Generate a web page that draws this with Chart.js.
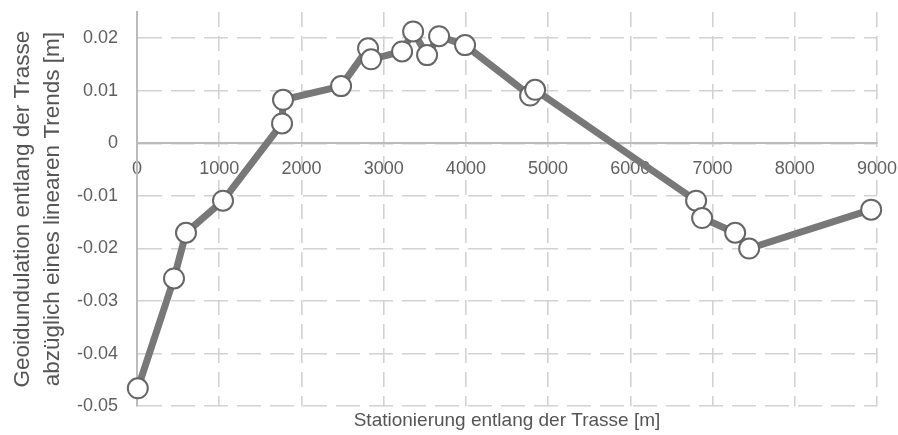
<!DOCTYPE html>
<html>
<head>
<meta charset="utf-8">
<script src="https://cdn.jsdelivr.net/npm/chart.js@4"></script>
<style>
  html, body { margin: 0; padding: 0; background: #ffffff; }
  #wrap { width: 898px; height: 435px; position: relative; }
</style>
</head>
<body>
<div id="wrap"><canvas id="c"></canvas></div>
<script>
// Stationierung entlang der Trasse [m]
const stations = [10, 450, 596, 1046, 1764, 1776, 2482, 2810, 2847, 3224, 3358, 3528, 3674, 3990, 4781, 4842, 6800, 6873, 7275, 7445, 8929];
// Geoidundulation abzüglich eines linearen Trends [m]
const undulation = [-0.0466, -0.0257, -0.0170, -0.0109, 0.0038, 0.0083, 0.0109, 0.0181, 0.0160, 0.0175, 0.0213, 0.0168, 0.0204, 0.0187, 0.0091, 0.0102, -0.0109, -0.0142, -0.0170, -0.0200, -0.0126];
// axis settings
const xTicksMin = 0, xTicksMax = 9000, xStep = 1000;
const yTicksMin = -0.05, yTicksMax = 0.025, yStep = 0.01;
const xTitle = 'Stationierung entlang der Trasse [m]';
const yTitle = ['Geoidundulation entlang der Trasse', 'abzüglich eines linearen Trends [m]'];

const points = stations.map((s, i) => ({ x: s, y: undulation[i] }));

const FONT = "'Liberation Sans', Arial, Helvetica, sans-serif";

new Chart(document.getElementById('c'), {
  type: 'line',
  data: {
    datasets: [{
      data: points,
      borderColor: '#787878',
      borderWidth: 7,
      tension: 0,
      pointRadius: 10,
      pointHoverRadius: 10,
      pointBorderWidth: 2,
      pointBackgroundColor: '#ffffff',
      pointBorderColor: '#666666',
      clip: false
    }]
  },
  options: {
    responsive: true,
    maintainAspectRatio: false,
    animation: false,
    locale: 'en-US',
    layout: { padding: { left: 0, right: 21, top: 8.5, bottom: 0 } },
    plugins: {
      legend: { display: false },
      tooltip: { enabled: false },
      title: {
        display: true,
        text: xTitle,
        position: 'bottom',
        fullSize: false,
        align: 'center',
        color: '#555555',
        font: { family: FONT, size: 19, weight: 'normal', lineHeight: 1.2 },
        padding: { top: 3, bottom: 3 }
      }
    },
    scales: {
      x: {
        type: 'linear',
        position: { y: 0 },
        min: xTicksMin,
        max: xTicksMax,
        ticks: {
          stepSize: xStep,
          maxRotation: 0,
          autoSkip: false,
          padding: 15,
          color: '#5f5f5f',
          font: { family: FONT, size: 18 },
          callback: (v) => String(v)
        },
        grid: { color: '#d2d2d2', lineWidth: 1.6, drawTicks: false },
        border: { display: true, color: '#bbbbbb', width: 2, dash: [15, 9] },
        afterFit: (s) => { s.height = 0; s.paddingLeft = 0; s.paddingRight = 0; }
      },
      y: {
        type: 'linear',
        position: 'left',
        min: yTicksMin,
        max: yTicksMax,
        ticks: {
          stepSize: yStep,
          padding: 19,
          color: '#5f5f5f',
          font: { family: FONT, size: 18 }
        },
        afterBuildTicks: (s) => {
          s.ticks = s.ticks.filter(t => Math.abs(t.value * 100 - Math.round(t.value * 100)) < 1e-6);
        },
        grid: { color: '#d2d2d2', lineWidth: 1.6, drawTicks: false },
        border: { display: true, color: '#bbbbbb', width: 2, dash: [24, 9] },
        title: {
          display: true,
          text: yTitle,
          color: '#555555',
          font: { family: FONT, size: 22.5, lineHeight: 1.33 },
          padding: { top: 7.5, bottom: 0 }
        },
        afterFit: (s) => { s.width = 137; s.paddingTop = 0; s.paddingBottom = 0; }
      }
    }
  }
});
</script>
</body>
</html>
